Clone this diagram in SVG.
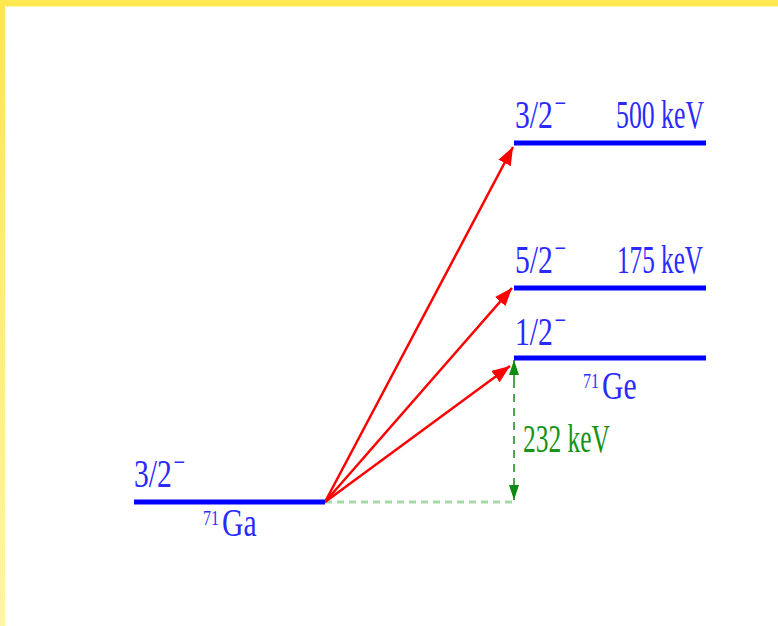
<svg xmlns="http://www.w3.org/2000/svg" width="778" height="626" viewBox="0 0 778 626">
  <defs>
    <linearGradient id="leftband" x1="0" y1="0" x2="0" y2="1">
      <stop offset="0" stop-color="#FFE74F"/>
      <stop offset="1" stop-color="#FFF5A6"/>
    </linearGradient>
    <marker id="redhead" markerUnits="userSpaceOnUse" markerWidth="20" markerHeight="14" refX="18" refY="7" orient="auto">
      <path d="M0,0 L18,7 L0,14 z" fill="#ff0000"/>
    </marker>
    <marker id="greenhead" markerUnits="userSpaceOnUse" markerWidth="16" markerHeight="10" refX="15" refY="5" orient="auto">
      <path d="M0,0 L15,5 L0,10 z" fill="#108a10"/>
    </marker>
    <style>
      .level { stroke: #0000ff; stroke-width: 5; fill: none; }
      .lbl { font-family: "Liberation Serif", "DejaVu Serif", serif; fill: #2a2aff; font-size: 39px; }
      .mn { font-size: 27px; }
      .sup { font-size: 21px; }
      .grn { font-family: "Liberation Serif", "DejaVu Serif", serif; fill: #149414; font-size: 40px; }
      .red { stroke: #ff0000; stroke-width: 2.5; fill: none; marker-end: url(#redhead); }
    </style>
  </defs>

  <rect x="0" y="0" width="778" height="626" fill="#ffffff"/>
  <rect x="0" y="0" width="778" height="6.5" fill="#FFE74F"/>
  <rect x="0" y="0" width="5" height="626" fill="url(#leftband)"/>

  <g id="connectors">
    <line x1="325" y1="502" x2="514" y2="502" stroke="#a8d8a8" stroke-width="3" stroke-dasharray="7,5"/>
    <line class="red" x1="325" y1="502" x2="513" y2="147"/>
    <line class="red" x1="325" y1="502" x2="512" y2="288"/>
    <line class="red" x1="325" y1="502" x2="510" y2="366"/>
    <g id="gap-232keV">
      <line x1="514" y1="380" x2="514" y2="480" stroke="#108a10" stroke-width="1.5" stroke-dasharray="8,6"/>
      <line x1="514" y1="380" x2="514" y2="360" stroke="#108a10" stroke-width="1.5" marker-end="url(#greenhead)"/>
      <line x1="514" y1="480" x2="514" y2="500" stroke="#108a10" stroke-width="1.5" marker-end="url(#greenhead)"/>
      <text class="grn" x="523" y="452" textLength="87" lengthAdjust="spacingAndGlyphs">232 keV</text>
    </g>
  </g>

  <g id="ga71-ground">
    <line class="level" x1="134" y1="502" x2="325" y2="502"/>
    <text class="lbl" transform="translate(134,487) scale(0.76,1)">3/2<tspan class="mn" dx="2" dy="-16">−</tspan></text>
    <text class="lbl" transform="translate(203,536) scale(0.76,1)"><tspan class="sup" dy="-11">71</tspan><tspan dx="4" dy="11">Ga</tspan></text>
  </g>

  <g id="ge71-500keV">
    <line class="level" x1="514" y1="143" x2="706" y2="143"/>
    <text class="lbl" transform="translate(515,128) scale(0.76,1)">3/2<tspan class="mn" dx="2" dy="-16">−</tspan></text>
    <text class="lbl" x="616" y="128" textLength="88" lengthAdjust="spacingAndGlyphs">500 keV</text>
  </g>

  <g id="ge71-175keV">
    <line class="level" x1="514" y1="288" x2="706" y2="288"/>
    <text class="lbl" transform="translate(515,273) scale(0.76,1)">5/2<tspan class="mn" dx="2" dy="-16">−</tspan></text>
    <text class="lbl" x="617" y="273" textLength="86" lengthAdjust="spacingAndGlyphs">175 keV</text>
  </g>

  <g id="ge71-ground">
    <line class="level" x1="514" y1="358" x2="706" y2="358"/>
    <text class="lbl" transform="translate(515,345) scale(0.76,1)">1/2<tspan class="mn" dx="2" dy="-16">−</tspan></text>
    <text class="lbl" transform="translate(583,399) scale(0.76,1)"><tspan class="sup" dy="-11">71</tspan><tspan dx="4" dy="11">Ge</tspan></text>
  </g>
</svg>
